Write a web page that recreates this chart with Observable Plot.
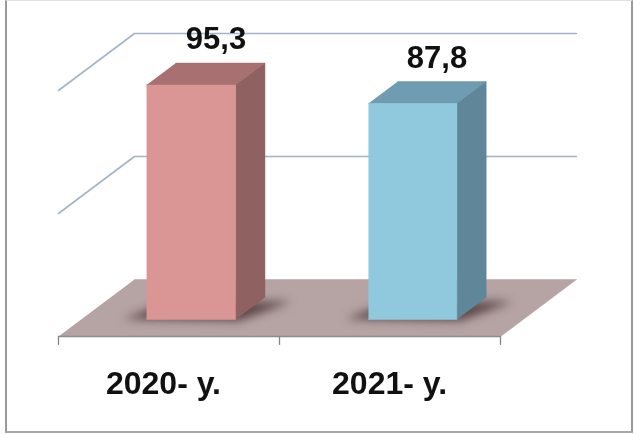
<!DOCTYPE html>
<html>
<head>
<meta charset="utf-8">
<script src="https://cdn.jsdelivr.net/npm/d3@7"></script>
<script src="https://cdn.jsdelivr.net/npm/@observablehq/plot@0.6"></script>
<style>
html,body{margin:0;padding:0;background:#fff}
#wrap{position:relative;width:640px;height:434px;overflow:hidden}
#box{position:absolute;left:5px;top:0;width:624px;height:430px;border-left:2px solid #9a9a9a;border-right:2px solid #9a9a9a;border-bottom:2px solid #a8a8a8;border-top:1px solid #e2e2e2;box-sizing:content-box}
#chart{position:absolute;left:0;top:0}
#chart svg{background:transparent;filter:blur(.6px)}
</style>
</head>
<body>
<div id="wrap"><div id="box"></div><div id="chart"></div></div>
<script>
const categories = ["2020- y.", "2021- y."];
const categoryCentres = [0.475, 1.498];
const values = [95.3, 87.8];
const valueLabels = ["95,3", "87,8"];
const frontColors = ["#d99694", "#90c9de"];
const topColors = ["#a87070", "#6f9cb0"];
const sideColors = ["#8f6161", "#5f8799"];
const gridValues = [50, 100];
const categoryEdges = [0, 1, 2];
const barLeft = [0.296, 1.30];
const barRight = [0.699, 1.70];
const depthFront = 0.298, depthBack = 0.684;

// Oblique projection of the chart's (category, value, depth) space into its x/y scales
const xPerDepth = 76 / 221, yPerDepth = 57 / 2.46;
const P = (c, v, d, id, extra) => ({x: c + d * xPerDepth, y: v + d * yPerDepth, id, ...extra});

const floor = [P(0,0,0,"f"), P(2,0,0,"f"), P(2,0,1,"f"), P(0,0,1,"f")];
const grid = gridValues.flatMap(v => [P(0,v,0,v), P(0,v,1,v), P(2,v,1,v)]);

const poly = (pts, id) => pts.map(p => P(p[0], p[1], p[2], id));
const faces = values.flatMap((v, i) => {
  const l = barLeft[i], r = barRight[i], a = depthFront, b = depthBack;
  return [
    {fill: topColors[i], pts: poly([[l,v,a],[r,v,a],[r,v,b],[l,v,b]], "t"+i)},
    {fill: sideColors[i], pts: poly([[r,0,a],[r,v,a],[r,v,b],[r,0,b]], "s"+i)},
    {fill: frontColors[i], pts: poly([[l,0,a],[r,0,a],[r,v,a],[l,v,a]], "f"+i)}
  ];
});
const shadows = values.map((v, i) => poly(
  [[barLeft[i]-0.1,0,depthFront+0.02],[barRight[i]+0.02,0,depthFront-0.01],
   [barRight[i]+0.13,0,depthBack-0.08],[barLeft[i]-0.02,0,depthBack-0.12]], "sh"+i)).flat();

const plot = Plot.plot({
  width: 640, height: 434,
  margin: 0,
  x: {domain: [0, 2], range: [58, 500], axis: null},
  y: {domain: [0, 100], range: [336, 90], axis: null},
  style: {background: "transparent", overflow: "visible"},
  marks: [
    Plot.line(grid, {x:"x", y:"y", z:"id", stroke:"#a3b3ca", strokeWidth:1.6, curve:"linear"}),
    Plot.line(floor, {x:"x", y:"y", z:"id", fill:"#b6a3a3", stroke:"#b6a3a3", strokeWidth:.5, curve:"linear"}),
    Plot.ruleY([0], {x1:0, x2:2, stroke:"#8c8c8c", strokeWidth:1.3}),
    Plot.ruleX(categoryEdges, {x: d => d, y1:0, y2:-3.6, stroke:"#858585", strokeWidth:1.3}),
    Plot.line(shadows, {x:"x", y:"y", z:"id", fill:"#5a4646", stroke:"#5a4646", curve:"linear", imageFilter:"blur(5px)"}),
    ...faces.map(f => Plot.line(f.pts, {x:"x", y:"y", z:"id", fill:f.fill, stroke:f.fill, strokeWidth:.5, curve:"linear"})),
    Plot.text(values.map((v,i)=>P(i+0.5, v, depthBack, i, {t:valueLabels[i]})), {
      x:"x", y:"y", text:"t", dx:-5, dy:-14, lineAnchor:"bottom", textAnchor:"middle",
      fontFamily:"Liberation Sans", fontWeight:"bold", fontSize:31, fill:"#111"}),
    Plot.text(categories, {
      x:(d,i)=>categoryCentres[i], y:()=>0, text:d=>d, dy:57, lineAnchor:"bottom", textAnchor:"middle",
      fontFamily:"Liberation Sans", fontWeight:"bold", fontSize:32, fill:"#111"})
  ]
});
document.getElementById("chart").append(plot);
</script>
</body>
</html>
